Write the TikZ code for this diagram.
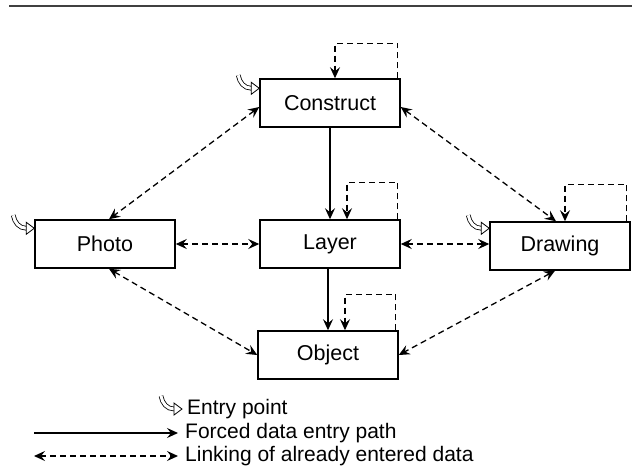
\documentclass[tikz,border=0pt]{standalone}
\usepackage{fontspec}
\setmainfont{Liberation Sans}
\usepackage{tikz}
\usetikzlibrary{arrows.meta}
\usetikzlibrary{positioning}
\usetikzlibrary{calc}

\tikzset{
  box/.style={draw, line width=1.5pt, minimum width=140pt, minimum height=48pt, inner sep=0pt, font=\fontsize{21.5}{25}\selectfont},
  forced/.style={line width=1.3pt, -{Stealth[length=11pt,width=10pt,inset=4pt]}},
  link/.style={line width=1.3pt, dash pattern=on 6pt off 4pt, {Stealth[length=11pt,width=10pt,inset=4pt]}-{Stealth[length=11pt,width=10pt,inset=4pt]}},
  loop/.style={line width=1.3pt, dash pattern=on 6pt off 4pt, -{Stealth[length=11pt,width=10pt,inset=4pt]}},
  legtxt/.style={anchor=west, inner sep=0pt, font=\fontsize{21}{25}\selectfont},
  entry/.pic={
    % hollow curved arrow, tip at (0,0)
    \draw[line width=0.8pt, double distance=3pt] (-21,-13) to[out=-80,in=180] (-8,0);
    \draw[line width=0.8pt, fill=white] (-8,-6) -- (0,0) -- (-8,6) -- cycle;
  }
}

\begin{document}
\begin{tikzpicture}[x=1pt, y=-1pt]
     \useasboundingbox (0,0) rectangle (632,475);
     \draw[line width=1.8pt, black!75] (9,6) -- (632,6);

     % boxes
     \node[box] (construct) at (330,103) {Construct};
     \node[box] (photo) at (105,244) {Photo};
     \node[box] (layer) at (330,244) {Layer};
     \node[box] (drawing) at (560,246) {Drawing};
     \node[box] (object) at (328,355) {Object};

     % forced path
     \draw[forced] (construct.south) -- (layer.north);
     \draw[forced] ([xshift=-2pt]layer.south) -- (object.north);

     % links
     \draw[link] ([yshift=-4pt]construct.west) -- ([xshift=4pt]photo.north);
     \draw[link] ([yshift=-4pt]construct.east) -- ([xshift=-4pt]drawing.north);
     \draw[link] (photo.east) -- (layer.west);
     \draw[link] (layer.east) -- (drawing.west |- layer.east);
     \draw[link] ([xshift=4pt]photo.south) -- (object.west);
     \draw[link] ([xshift=-5pt]drawing.south) -- (object.east);

     % self links
     \draw[loop] ([xshift=-3pt]construct.north east) -- ++(0,-35) -| ([xshift=5pt]construct.north);
     \draw[loop] ([xshift=-3pt]layer.north east) -- ++(0,-37) -| ([xshift=17pt]layer.north);
     \draw[loop] ([xshift=-3pt]object.north east) -- ++(0,-36) -| ([xshift=17pt]object.north);
     \draw[loop] ([xshift=-4pt]drawing.north east) -- ++(0,-37) -| ([xshift=5pt]drawing.north);

     % entry points
     \pic at ([yshift=-10pt]construct.north west) {entry};
     \pic at ([yshift=-9pt]photo.north west) {entry};
     \pic at ([yshift=-7pt]drawing.north west) {entry};

     % legend
     \node[legtxt] (enttxt) at (187,409) {Entry point};
     \node[legtxt] (fortxt) at (185,433) {Forced data entry path};
     \node[legtxt] (lnktxt) at (185,456) {Linking of already entered data};
     \pic at ([xshift=-5pt]enttxt.west) {entry};
     \coordinate (forstart) at (34,433);
     \coordinate (lnkstart) at (34,456);
     \draw[forced] (forstart) -- ([xshift=-7pt]fortxt.west);
     \draw[link] (lnkstart) -- ([xshift=-7pt]lnktxt.west);
\end{tikzpicture}
\end{document}
